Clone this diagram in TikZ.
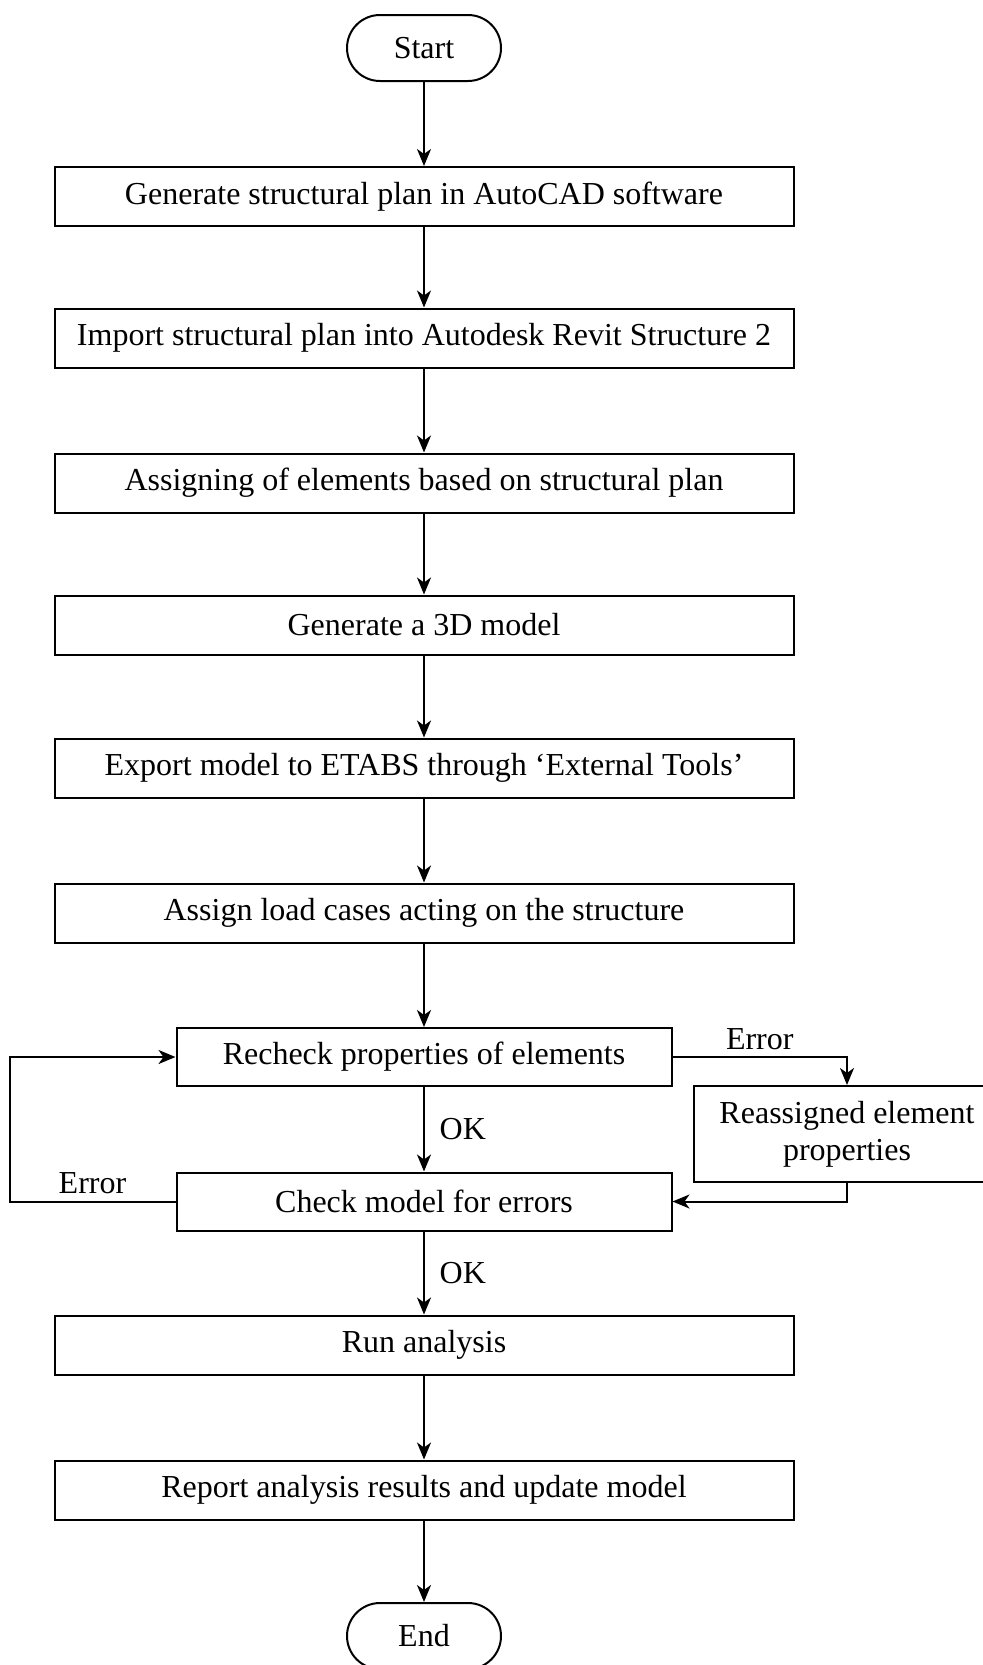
\documentclass[tikz,border=0pt]{standalone}
\usepackage{fontspec}
\setmainfont{Liberation Serif}
\usetikzlibrary{arrows.meta}

\begin{document}
\begin{tikzpicture}[x=0.5pt,y=-0.5pt,
	font=\fontsize{16}{18.5}\selectfont,
	line width=1pt,
	stepbox/.style={draw,rectangle,minimum width=369.5pt,minimum height=29.5pt,inner sep=0pt},
	checkbox/.style={draw,rectangle,minimum width=247.5pt,minimum height=29pt,inner sep=0pt},
	terminal/.style={draw,rectangle,rounded corners=16.5pt,minimum width=77pt,minimum height=33pt},
	flow/.style={-{Stealth[length=8.5pt,width=7pt,inset=2.5pt]}}]
	\useasboundingbox (0,0) rectangle (982,1665);
	%%%% Anfang
	\node[terminal] (start) at (424,48) {Start};
	%%%% Hauptschritte
	\foreach \name/\y/\txt in {gen/196.5/Generate structural plan in AutoCAD software,
		imp/338/Import structural plan into Autodesk Revit Structure 2,
		elem/483/Assigning of elements based on structural plan,
		model/625/Generate a 3D model,
		export/768/Export model to ETABS through ‘External Tools’,
		load/913/Assign load cases acting on the structure,
		run/1345/Run analysis,
		report/1490/Report analysis results and update model} {
		\node[stepbox] (\name) at (424,\y) {\txt};
	}
	% Pruefschleife
	\node[checkbox] (recheck) at (424,1057) {Recheck properties of elements};
	\node[checkbox] (check) at (424,1201.5) {Check model for errors};
	\node[draw,rectangle,align=center,minimum width=153pt,minimum height=48pt,inner sep=0pt] (reass) at (847,1134) {Reassigned element\\properties};
	%%%% Ende
	\node[terminal] (end) at (424,1636) {End};
	% Pfeile
	\foreach \a/\b in {start/gen,gen/imp,imp/elem,elem/model,model/export,export/load,load/recheck,run/report,report/end} {
		\draw[flow] (\a) -- (\b);
	}
	\draw[flow] (recheck) -- node[right=4pt] {OK} (check);
	\draw[flow] (check) -- node[right=4pt] {OK} (run);
	\draw[flow] (recheck.east) -| node[pos=0.25,above] {Error} (reass.north);
	\draw[flow] (reass.south) |- (check.east);
	\draw[flow] (check.west) -- node[above] {Error} ++(-166,0) |- (recheck.west);
\end{tikzpicture}
\end{document}
